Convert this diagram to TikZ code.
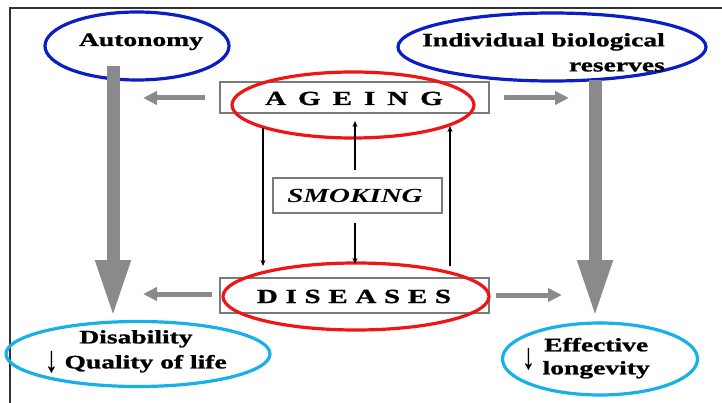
\documentclass[tikz,border=0pt]{standalone}
\usepackage{fontspec}
\setmainfont{Liberation Serif}[FakeStretch=1.45,BoldFeatures={FakeBold=1.2}]
\usetikzlibrary{arrows.meta,shapes.geometric}
\definecolor{ellblue}{HTML}{0A1EC8}
\definecolor{ellred}{HTML}{F01414}
\definecolor{ellcyan}{HTML}{18B0E8}
\definecolor{arrgray}{HTML}{8A8A8A}
\definecolor{boxgray}{HTML}{7A7A7A}
\newcommand{\downarr}[1]{\raisebox{#1}{\scalebox{0.9}[1.9]{↓}}}
\begin{document}
\begin{tikzpicture}[x=1pt,y=-1pt,
  ell/.style={draw,ellipse,line width=3.2pt,inner sep=0pt},
  lbl/.style={font=\fontsize{19}{25}\selectfont\bfseries,inner sep=0pt},
  captext/.style={font=\fontsize{20}{22}\selectfont\bfseries,inner sep=0pt},
  boxn/.style={draw=boxgray,line width=1.3pt,inner sep=0pt},
  bigarr/.style={draw=arrgray,line width=13pt,-{Triangle[width=32pt,length=58pt]}},
  midarr/.style={draw=arrgray,line width=5pt,-{Triangle[width=13pt,length=14pt]}},
  thinarr/.style={draw=black,line width=1.3pt,-{Stealth[width=5pt,length=6pt]}}]
\useasboundingbox (0,0) rectangle (722,403);
\fill[white] (0,0) rectangle (722,403);
% frame
\draw[line width=2pt,black!80] (10,403) -- (10,8) -- (722,8);

% boxes
\node[boxn,minimum width=269pt,minimum height=31pt] (ageB) at (354.5,97.5) {};
\node[boxn,minimum width=269pt,minimum height=35pt] (disB) at (354.5,295.5) {};
\node[boxn,minimum width=169pt,minimum height=35pt] (smoB) at (357.5,195.5) {};

% ellipses
\node[ell,draw=ellblue,minimum width=184pt,minimum height=68pt] (autE) at (137,46) {};
\node[ell,draw=ellblue,minimum width=308pt,minimum height=68pt] (indE) at (552,47) {};
\node[ell,draw=ellred,minimum width=242pt,minimum height=66pt] (ageE) at (353,105) {};
\node[ell,draw=ellred,minimum width=266pt,minimum height=67pt] (disE) at (356,296.5) {};
\node[ell,draw=ellcyan,minimum width=264pt,minimum height=65pt] (dqE) at (138,354) {};
\node[ell,draw=ellcyan,minimum width=195pt,minimum height=72pt] (effE) at (600,359) {};

% texts
\node[lbl,anchor=base] (autT) at (141,46) {Autonomy};
\node[lbl,anchor=north east,align=right] (indT) at (665,33) {Individual biological\\reserves};
\node[captext,anchor=base] (ageT) at (354,105) {A\hspace{12pt}G\hspace{12pt}E\hspace{12pt}I\hspace{12pt}N\hspace{12pt}G};
\node[captext,anchor=base] (disT) at (354,303) {D\hspace{7.7pt}I\hspace{7.7pt}S\hspace{7.7pt}E\hspace{7.7pt}A\hspace{7.7pt}S\hspace{7.7pt}E\hspace{7.7pt}S};
\node[lbl,anchor=base,font=\fontsize{20}{25}\selectfont\bfseries\itshape] (smoT) at (355,203) {SMOKING};
\node[lbl,anchor=north,align=center] (dqT) at (136,330) {Disability\\\downarr{-3pt} Quality of life};
\node[lbl,font=\fontsize{19}{24}\selectfont\bfseries] (effT) at (586,358) {\downarr{-6pt}\hspace{8pt}\begin{tabular}{@{}c@{}}Effective\\[-1pt]longevity\end{tabular}};

% coordinates for connectors
\coordinate (a1) at (113,66);   \coordinate (a2) at (113,318);
\coordinate (b1) at (595,80);   \coordinate (b2) at (595,318);
\coordinate (g1) at (205,98);   \coordinate (g2) at (143,98);
\coordinate (g3) at (504,98);   \coordinate (g4) at (569,98);
\coordinate (g5) at (212,294);  \coordinate (g6) at (143,294);
\coordinate (g7) at (496,295);  \coordinate (g8) at (562,295);
\coordinate (t1) at (263,128);  \coordinate (t2) at (263,266);
\coordinate (t3) at (355,170);  \coordinate (t4) at (355,121);
\coordinate (t5) at (355,223);  \coordinate (t6) at (355,264);
\coordinate (t7) at (450,266);  \coordinate (t8) at (450,126);

% big gray arrows
\draw[bigarr] (a1) -- (a2);
\draw[bigarr] (b1) -- (b2);
% medium gray arrows
\draw[midarr] (g1) -- (g2);
\draw[midarr] (g3) -- (g4);
\draw[midarr] (g5) -- (g6);
\draw[midarr] (g7) -- (g8);
% thin black arrows
\draw[thinarr] (t1) -- (t2);
\draw[thinarr] (t3) -- (t4);
\draw[thinarr] (t5) -- (t6);
\draw[thinarr] (t7) -- (t8);
\end{tikzpicture}
\end{document}
